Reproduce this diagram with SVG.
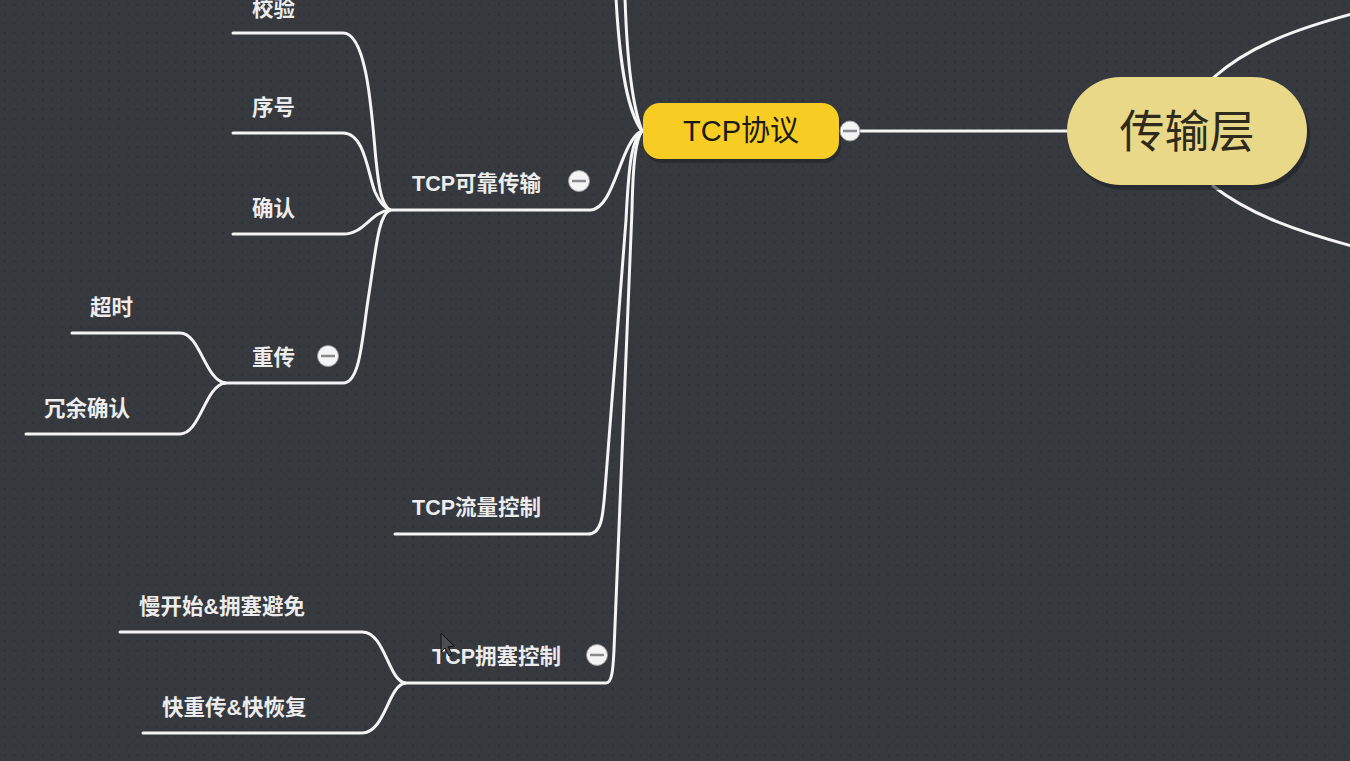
<svg xmlns="http://www.w3.org/2000/svg" width="1350" height="761" viewBox="0 0 1350 761">
<defs>
<pattern id="dots" width="9.5" height="9.5" patternUnits="userSpaceOnUse">
<rect width="9.5" height="9.5" fill="#363a3f"/>
<circle cx="4.75" cy="4.75" r="1.1" fill="#2c2f34"/>
</pattern>
<style>
.ln{fill:none;stroke:#f4f4f4;stroke-width:3;stroke-linecap:round;stroke-linejoin:round}
.lbl{font-family:"Liberation Sans","Noto Sans CJK SC",sans-serif;font-size:21.5px;fill:#ececec;font-weight:bold}
.btn{fill:#f4f4f4;stroke:#9a9a9a;stroke-width:1}
.bar{stroke:#8a8a8a;stroke-width:2.5}
</style>
</defs>
<rect width="1350" height="761" fill="url(#dots)"/>

<g id="connectors">
<!-- root to TCP -->
<path class="ln" d="M860 131 L1068 131" stroke-width="4"/>
<!-- root outward curves -->
<path class="ln" d="M1213 78 C1250 45 1300 28 1352 14"/>
<path class="ln" d="M1213 186 C1250 215 1300 232 1352 246"/>
<!-- TCP upward branches -->
<path class="ln" d="M642 131 C628 112 620 70 616 -2"/>
<path class="ln" d="M642 131 C632 105 627 60 625 -2"/>
<!-- TCP可靠传输 -->
<path class="ln" d="M390 210 L590 210 C615 210 620 140 642 131"/>
<!-- TCP流量控制 -->
<path class="ln" d="M395 534 L588 534 C602 534 603 515 605 490 L626 220 C629 160 632 140 642 131"/>
<!-- TCP拥塞控制 -->
<path class="ln" d="M405 683 L606 683 C612 683 613 670 614 650 L632 210 C633 160 636 140 642 131"/>
<!-- children of TCP可靠传输 -->
<path class="ln" d="M233 33 L343 33 C368 33 372 120 376 160 C379 190 382 205 390 210"/>
<path class="ln" d="M233 133 L343 133 C365 133 368 175 375 192 C380 203 384 208 390 210"/>
<path class="ln" d="M233 234 L343 234 C365 234 370 212 390 210"/>
<path class="ln" d="M225 383 L343 383 C360 383 362 340 368 300 C376 250 378 215 390 210"/>
<!-- children of 重传 -->
<path class="ln" d="M72 333 L180 333 C200 333 205 380 225 383"/>
<path class="ln" d="M26 434 L180 434 C200 434 205 386 225 383"/>
<!-- children of TCP拥塞控制 -->
<path class="ln" d="M120 632 L362 632 C385 632 388 680 405 683"/>
<path class="ln" d="M143 733 L362 733 C385 733 388 686 405 683"/>
</g>

<g id="node-root">
<rect x="1070" y="82" width="240" height="108" rx="54" fill="#1f2124" opacity="0.6"/>
<rect x="1067" y="77" width="240" height="108" rx="54" fill="#e8d887"/>
<text x="1187" y="148" text-anchor="middle" font-family="'Noto Sans CJK SC',sans-serif" font-size="45" fill="#2e2a1c">传输层</text>
</g>

<g id="node-tcp">
<rect x="645" y="107" width="196" height="56" rx="17" fill="#1f2124" opacity="0.6"/>
<rect x="643" y="103" width="196" height="56" rx="17" fill="#f7cd23"/>
<text x="741" y="141" text-anchor="middle" font-family="'Liberation Sans','Noto Sans CJK SC',sans-serif" font-size="29" fill="#1a1a1a">TCP协议</text>
<circle class="btn" cx="850" cy="131" r="10"/>
<line class="bar" x1="843" y1="131" x2="857" y2="131"/>
</g>

<g id="node-reliable">
<text class="lbl" x="412" y="191">TCP可靠传输</text>
<circle class="btn" cx="579" cy="181" r="10.5"/>
<line class="bar" x1="572" y1="181" x2="586" y2="181"/>
</g>
<g id="node-flow">
<text class="lbl" x="412" y="515">TCP流量控制</text>
</g>
<g id="node-congestion">
<text class="lbl" x="432" y="664">TCP拥塞控制</text>
<circle class="btn" cx="597" cy="655" r="10.5"/>
<line class="bar" x1="590" y1="655" x2="604" y2="655"/>
</g>
<g id="node-checksum"><text class="lbl" x="252" y="16">校验</text></g>
<g id="node-seq"><text class="lbl" x="252" y="115">序号</text></g>
<g id="node-ack"><text class="lbl" x="252" y="216">确认</text></g>
<g id="node-retrans">
<text class="lbl" x="252" y="365">重传</text>
<circle class="btn" cx="328" cy="356" r="10.5"/>
<line class="bar" x1="321" y1="356" x2="335" y2="356"/>
</g>
<g id="node-timeout"><text class="lbl" x="90" y="315">超时</text></g>
<g id="node-dupack"><text class="lbl" x="44" y="416">冗余确认</text></g>
<g id="node-slowstart"><text class="lbl" x="139" y="614">慢开始&amp;拥塞避免</text></g>
<g id="node-fastretrans"><text class="lbl" x="162" y="715">快重传&amp;快恢复</text></g>

<polygon points="441,633 441,652 445,648 449,656 452,654 448,647 454,646" fill="#4a4d52" stroke="#111" stroke-width="1"/>
</svg>
